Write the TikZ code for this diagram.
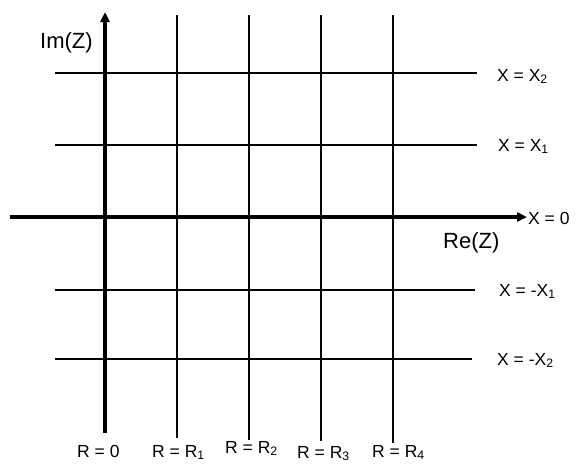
\documentclass[tikz,border=0pt]{standalone}
\usepackage{fontspec}
\setmainfont{Liberation Sans}
\usetikzlibrary{arrows.meta}

\begin{document}
\begin{tikzpicture}[x=1pt,y=-1pt,
    gridline/.style={line width=1.5pt},
    axisline/.style={line width=4pt,-{Triangle[length=10pt,width=9pt]}},
    lbl/.style={font=\fontsize{17.5}{20}\selectfont,inner sep=0pt,anchor=base west},
    axislbl/.style={font=\fontsize{22}{26}\selectfont,inner sep=0pt,anchor=base west}]
  \useasboundingbox (0,0) rectangle (578,467);

  % lines of constant reactance
  \foreach \name/\y/\xe in {xp2/73/477, xp1/145/477, xm1/290/475, xm2/359/472}{
    \coordinate (\name start) at (55,\y);
    \coordinate (\name end) at (\xe,\y);
    \draw[gridline] (\name start) -- (\name end);
  }

  % lines of constant resistance
  \foreach \name/\x/\yb in {r1/177/438, r2/249/440, r3/321/441, r4/393/443}{
    \coordinate (\name top) at (\x,15);
    \coordinate (\name bot) at (\x,\yb);
    \draw[gridline] (\name top) -- (\name bot);
  }

  % axes
  \coordinate (re start) at (10,217);
  \coordinate (re end) at (527,217);
  \coordinate (im start) at (105,433);
  \coordinate (im end) at (105,12);
  \draw[axisline] (re start) -- (re end);
  \draw[axisline] (im start) -- (im end);

  \node[axislbl] (imlbl) at (40,48) {Im(Z)};
  \node[axislbl] (relbl) at (443,248) {Re(Z)};

  % reactance labels
  \node[lbl] (xp2lbl) at (497,81) {X = X\textsubscript{2}};
  \node[lbl] (xp1lbl) at (498,151) {X = X\textsubscript{1}};
  \node[lbl] (x0lbl) at (528,224) {X = 0};
  \node[lbl] (xm1lbl) at (499,296) {X = -X\textsubscript{1}};
  \node[lbl] (xm2lbl) at (497,365) {X = -X\textsubscript{2}};

  % resistance labels
  \node[lbl] (r0lbl) at (77,457) {R = 0};
  \node[lbl] (r1lbl) at (152,457) {R = R\textsubscript{1}};
  \node[lbl] (r2lbl) at (225,453) {R = R\textsubscript{2}};
  \node[lbl] (r3lbl) at (297,458) {R = R\textsubscript{3}};
  \node[lbl] (r4lbl) at (372,457) {R = R\textsubscript{4}};
\end{tikzpicture}
\end{document}
